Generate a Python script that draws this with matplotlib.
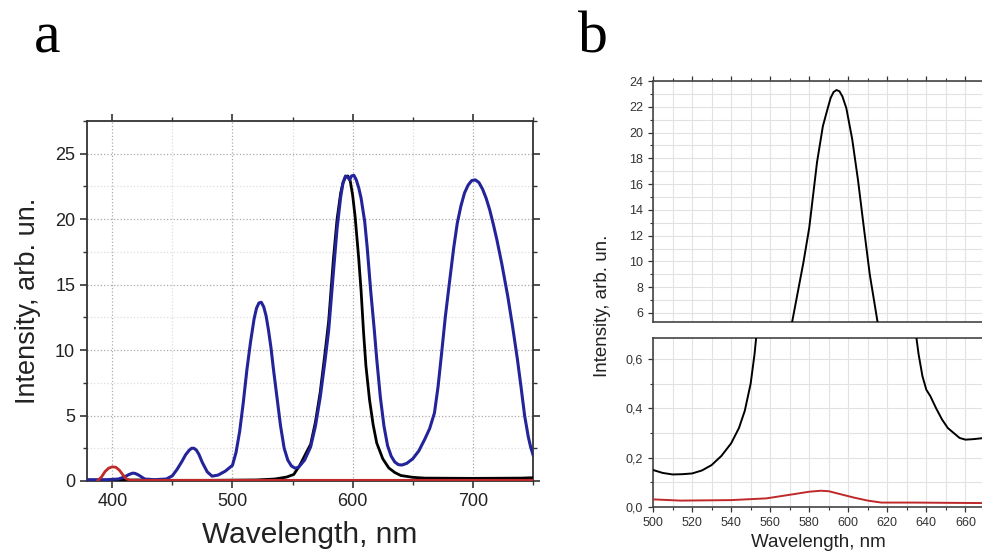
import matplotlib
matplotlib.use("Agg")
import matplotlib.pyplot as plt
from matplotlib.ticker import MultipleLocator, FuncFormatter

plt.rcParams['font.family'] = ['Liberation Sans', 'DejaVu Sans']

# ------------------------------------------------------------------
# panel a: spectra
# ------------------------------------------------------------------
a_blue_x = [379, 385, 395, 405, 410, 414, 417, 419, 422, 427, 435, 445, 450, 454, 458,
            461, 464, 466, 468, 470, 472, 475, 479, 483, 488, 494, 500, 503, 506, 509,
            512, 515, 518, 520, 522, 524, 526, 528, 530, 532, 534, 537, 540, 543, 546,
            549, 552, 555, 560, 565, 569, 573, 577, 580, 584, 587, 590, 592, 594, 596,
            597.5, 599, 601, 603, 605, 607, 610, 612, 615, 618, 620, 623, 626, 629, 632,
            635, 638, 641, 645, 650, 655, 660, 664, 668, 671, 674, 677, 680, 684, 687,
            690, 693, 696, 699, 702, 705, 708, 711, 714, 717, 720, 724, 729, 733, 737,
            740, 743, 746, 748, 750]
a_blue_y = [0.1, 0.1, 0.1, 0.15, 0.3, 0.5, 0.6, 0.58, 0.45, 0.15, 0.1, 0.15, 0.4, 0.9, 1.5,
            2.0, 2.35, 2.5, 2.5, 2.35, 2.05, 1.4, 0.7, 0.37, 0.45, 0.75, 1.2, 2.2, 3.8, 6.0,
            8.5, 10.6, 12.4, 13.2, 13.6, 13.65, 13.3, 12.6, 11.5, 10.2, 8.6, 6.4, 4.2, 2.5, 1.6,
            1.15, 0.98, 1.05, 1.6, 2.6, 4.2, 6.4, 9.2, 11.5, 16.0, 19.3, 21.7, 22.8, 23.3, 23.2,
            23.0, 23.3, 23.35, 23.0, 22.4, 21.6, 19.8, 17.9, 14.5, 11.5, 9.3, 6.4, 4.2, 2.7, 1.9,
            1.45, 1.25, 1.22, 1.35, 1.7, 2.3, 3.2, 4.0, 5.2, 7.2, 9.8, 12.5, 14.8, 17.8, 19.7,
            21.0, 22.0, 22.6, 22.95, 23.0, 22.8, 22.3, 21.6, 20.7, 19.6, 18.4, 16.6, 14.1, 11.8, 9.3,
            7.2, 5.0, 3.4, 2.6, 2.0]

a_black_x = [379, 400, 420, 440, 480, 520, 535, 545, 551, 556, 561, 565, 569, 573, 577,
             580, 584, 587, 590, 592, 594, 596, 598, 600, 602, 605, 607, 609, 611, 614,
             617, 620, 625, 630, 635, 640, 650, 660, 700, 740, 750]
a_black_y = [0.05, 0.05, 0.08, 0.05, 0.05, 0.08, 0.15, 0.3, 0.5, 1.2, 2.1, 2.8, 4.5, 6.8, 9.8,
             12.2, 17.0, 20.0, 22.0, 22.8, 23.2, 23.3, 22.9, 21.8, 20.2, 17.0, 14.5, 11.4, 8.8, 6.2,
             4.3, 2.9, 1.7, 1.0, 0.65, 0.42, 0.28, 0.22, 0.2, 0.22, 0.25]

a_red_x = [388, 391, 394, 397, 400, 403, 406, 409, 412, 415, 420, 500, 600, 750]
a_red_y = [0.05, 0.3, 0.72, 0.98, 1.08, 1.05, 0.82, 0.45, 0.15, 0.06, 0.05, 0.05, 0.05, 0.05]

# ------------------------------------------------------------------
# panel b: zoomed spectra (broken axis)
# ------------------------------------------------------------------
b_black_x = [500, 505, 510, 515, 520, 525, 530, 535, 540, 544, 547, 550, 552, 554, 558,
             562, 566, 571, 574, 577, 580, 584, 587, 589.5, 591, 592.5, 594, 595.5, 597, 599,
             602, 605, 608, 611, 615, 620, 625, 630, 634, 636, 638, 640, 642, 645, 648,
             651, 654, 657, 660, 664, 670]
b_black_y = [0.150, 0.138, 0.132, 0.133, 0.136, 0.148, 0.170, 0.207, 0.258, 0.320, 0.390, 0.50, 0.62, 0.78, 1.4,
             2.5, 3.8, 5.1, 7.5, 9.9, 12.6, 17.7, 20.5, 21.9, 22.7, 23.15, 23.3, 23.2, 22.8, 21.9,
             19.5, 16.3, 12.6, 9.0, 5.3, 2.8, 1.6, 1.0, 0.74, 0.62, 0.53, 0.475, 0.45, 0.40, 0.355,
             0.32, 0.30, 0.28, 0.273, 0.275, 0.28]

b_red_x = [500, 514, 540, 558, 572, 580, 586, 590, 596, 603, 610, 617, 634, 650, 670]
b_red_y = [0.031, 0.026, 0.028, 0.035, 0.052, 0.062, 0.066, 0.064, 0.052, 0.038, 0.026, 0.018, 0.018, 0.017, 0.016]

blue = '#23239a'
red = '#c0282a'
spine_col = '#333333'

fig = plt.figure(figsize=(9.82, 5.56), dpi=100)

# ==================== panel a ====================
ax = fig.add_axes([0.0886, 0.1349, 0.4542, 0.6475])
ax.plot(a_black_x, a_black_y, color='black', lw=2.0, zorder=3)
ax.plot(a_blue_x, a_blue_y, color=blue, lw=2.2, zorder=4)
ax.plot(a_red_x, a_red_y, color=red, lw=2.0, zorder=5)
ax.set_xlim(379, 750)
ax.set_ylim(0, 27.5)
ax.xaxis.set_major_locator(MultipleLocator(100))
ax.xaxis.set_minor_locator(MultipleLocator(50))
ax.yaxis.set_major_locator(MultipleLocator(5))
ax.yaxis.set_minor_locator(MultipleLocator(2.5))
ax.grid(True, which='major', ls=':', color='#aaaaaa', lw=0.9)
ax.grid(True, which='minor', ls=':', color='#dddddd', lw=0.9)
ax.tick_params(which='both', direction='out', top=True, right=True, labelsize=13,
               color=spine_col, labelcolor='#222222')
ax.tick_params(which='major', length=5, width=1.2)
ax.tick_params(which='minor', length=3, width=1.0)
for s in ax.spines.values():
    s.set_color(spine_col)
    s.set_linewidth(1.3)
ax.set_xlabel('Wavelength, nm', fontsize=21.5, labelpad=8, color='#222222')
ax.set_ylabel('Intensity, arb. un.', fontsize=19.5, labelpad=10, color='#222222')
fig.text(0.035, 0.906, 'a', family='Liberation Serif', fontsize=43, va='baseline', ha='left')

# ==================== panel b ====================
axt = fig.add_axes([0.665, 0.4209, 0.336, 0.4334])
axb = fig.add_axes([0.665, 0.0881, 0.336, 0.3040], sharex=axt)
for a_ in (axt, axb):
    a_.plot(b_black_x, b_black_y, color='black', lw=1.4, zorder=3)
    a_.plot(b_red_x, b_red_y, color=red, lw=1.4, zorder=4)
    a_.xaxis.set_major_locator(MultipleLocator(20))
    a_.xaxis.set_minor_locator(MultipleLocator(10))
    a_.grid(True, which='both', color='#e2e2e2', lw=0.8)
    a_.tick_params(which='both', direction='out', labelsize=9, color=spine_col,
                   labelcolor='#333333')
    a_.tick_params(which='major', length=3.5, width=0.9)
    a_.tick_params(which='minor', length=2, width=0.8)
    for s in a_.spines.values():
        s.set_color('#444444')
        s.set_linewidth(1.2)
    a_.spines['right'].set_visible(False)
axt.set_xlim(500, 669)
axt.set_ylim(5.3, 24)
axt.yaxis.set_major_locator(MultipleLocator(2))
axt.yaxis.set_minor_locator(MultipleLocator(1))
axt.tick_params(which='both', bottom=False, top=True, labelbottom=False)
axb.set_ylim(0, 0.685)
axb.yaxis.set_major_locator(MultipleLocator(0.2))
axb.yaxis.set_minor_locator(MultipleLocator(0.1))
axb.yaxis.set_major_formatter(FuncFormatter(lambda v, p: f'{v:.1f}'.replace('.', ',')))
axb.set_xlabel('Wavelength, nm', fontsize=13.5, labelpad=4, color='#222222')
fig.text(0.614, 0.4496, 'Intensity, arb. un.', rotation=90, fontsize=13.5,
         ha='center', va='center', color='#222222')
fig.text(0.5886, 0.906, 'b', family='Liberation Serif', fontsize=43, va='baseline', ha='left')

fig.savefig('out.png', dpi=100)
